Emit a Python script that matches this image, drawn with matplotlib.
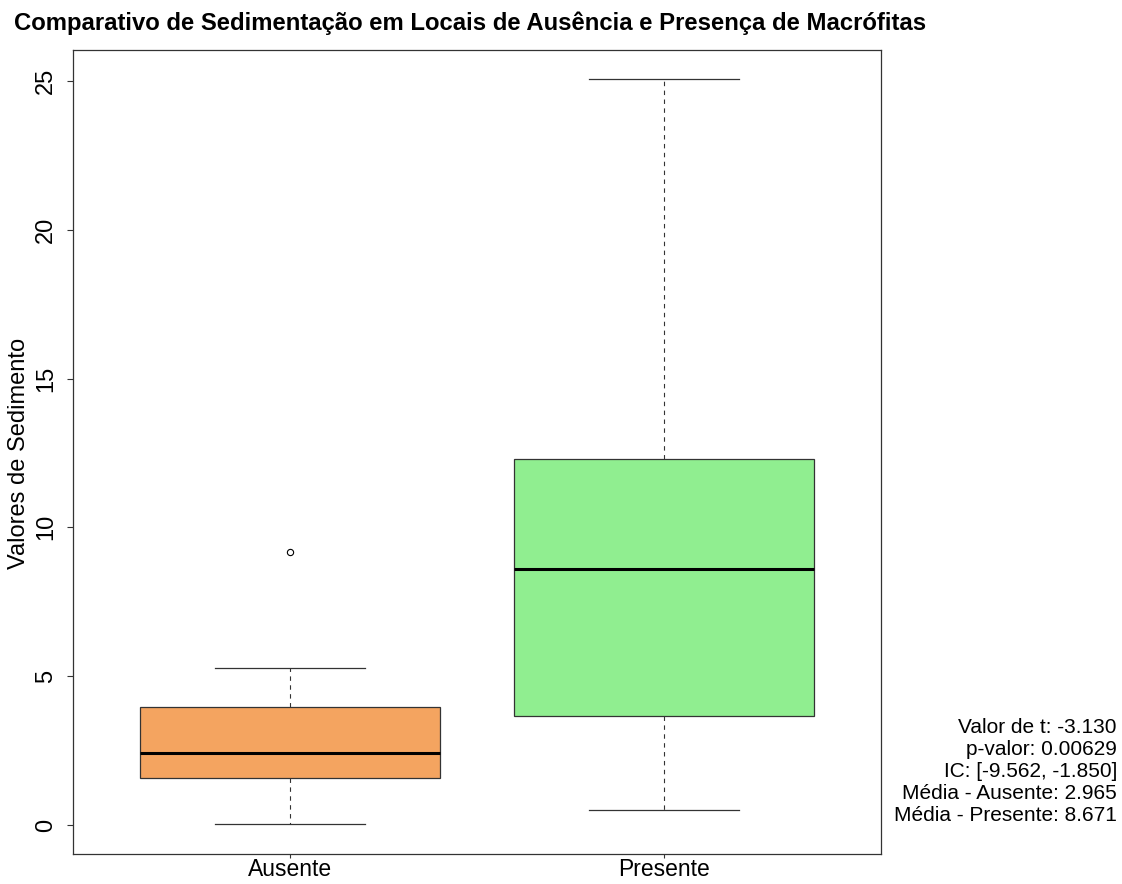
import matplotlib
matplotlib.use("Agg")
import matplotlib.pyplot as plt

plt.rcParams['font.family'] = ['Liberation Sans', 'DejaVu Sans']

# resumo dos cinco números de cada grupo
grupos = ["Ausente", "Presente"]
minimo = [0.03, 0.50]
q1 = [1.58, 3.67]
mediana = [2.41, 8.60]
q3 = [3.97, 12.28]
maximo = [5.29, 25.05]
outliers = [[9.17], []]
cores = ["#F4A460", "#90EE90"]

# resultado do teste t
valor_t = -3.130
p_valor = 0.00629
ic = (-9.562, -1.850)
media_ausente = 2.965
media_presente = 8.671

stats = []
for i, g in enumerate(grupos):
    stats.append({"label": g, "whislo": minimo[i], "q1": q1[i], "med": mediana[i],
                  "q3": q3[i], "whishi": maximo[i], "fliers": outliers[i]})

fig = plt.figure(figsize=(11.22, 8.84), dpi=100)
ax = fig.add_axes([73 / 1122, 1 - 854 / 884, 808 / 1122, 804.5 / 884])

linha = "#333333"
bp = ax.bxp(stats, positions=[1, 2], widths=0.8, patch_artist=True,
            boxprops=dict(edgecolor=linha, linewidth=0.9),
            medianprops=dict(color="black", linewidth=2.2),
            whiskerprops=dict(color=linha, linewidth=0.8, linestyle=(0, (4, 4))),
            capprops=dict(color=linha, linewidth=0.9),
            capwidths=0.4,
            flierprops=dict(marker="o", markersize=4.5, markerfacecolor="none",
                            markeredgecolor="black", markeredgewidth=0.8))
for caixa, cor in zip(bp["boxes"], cores):
    caixa.set_facecolor(cor)

todos = minimo + maximo + [v for o in outliers for v in o]
lo, hi = min(todos), max(todos)
pad = 0.04 * (hi - lo)
ax.set_ylim(lo - pad, hi + pad)
ax.set_xlim(0.5 - 0.08, len(grupos) + 0.5 + 0.08)

ax.set_yticks([0, 5, 10, 15, 20, 25])
ax.set_xticks([1, 2])
ax.set_xticklabels(grupos)
ax.tick_params(axis="y", labelrotation=90, length=4.5, pad=7, labelsize=17, color=linha)
ax.tick_params(axis="x", length=3, pad=0, labelsize=16.5, color=linha)
for lab in ax.get_yticklabels():
    lab.set_verticalalignment("center")
for s in ax.spines.values():
    s.set_color(linha)
    s.set_linewidth(0.9)

fig.text(8 / 1122, 1 - 453 / 884, "Valores de Sedimento", rotation=90,
         ha="left", va="center", fontsize=17)
fig.text(14 / 1122, 1 - 30 / 884,
         "Comparativo de Sedimentação em Locais de Ausência e Presença de Macrófitas",
         ha="left", va="baseline", fontsize=17.2, fontweight="bold")

linhas = [
    f"Valor de t: {valor_t:.3f}",
    f"p-valor: {p_valor:.5f}",
    f"IC: [{ic[0]:.3f}, {ic[1]:.3f}]",
    f"Média - Ausente: {media_ausente:.3f}",
    f"Média - Presente: {media_presente:.3f}",
]
for i, txt in enumerate(linhas):
    fig.text(1117 / 1122, 1 - (733 + 22 * i) / 884, txt, ha="right", va="baseline",
             fontsize=15)

fig.savefig("out.png", dpi=100)
